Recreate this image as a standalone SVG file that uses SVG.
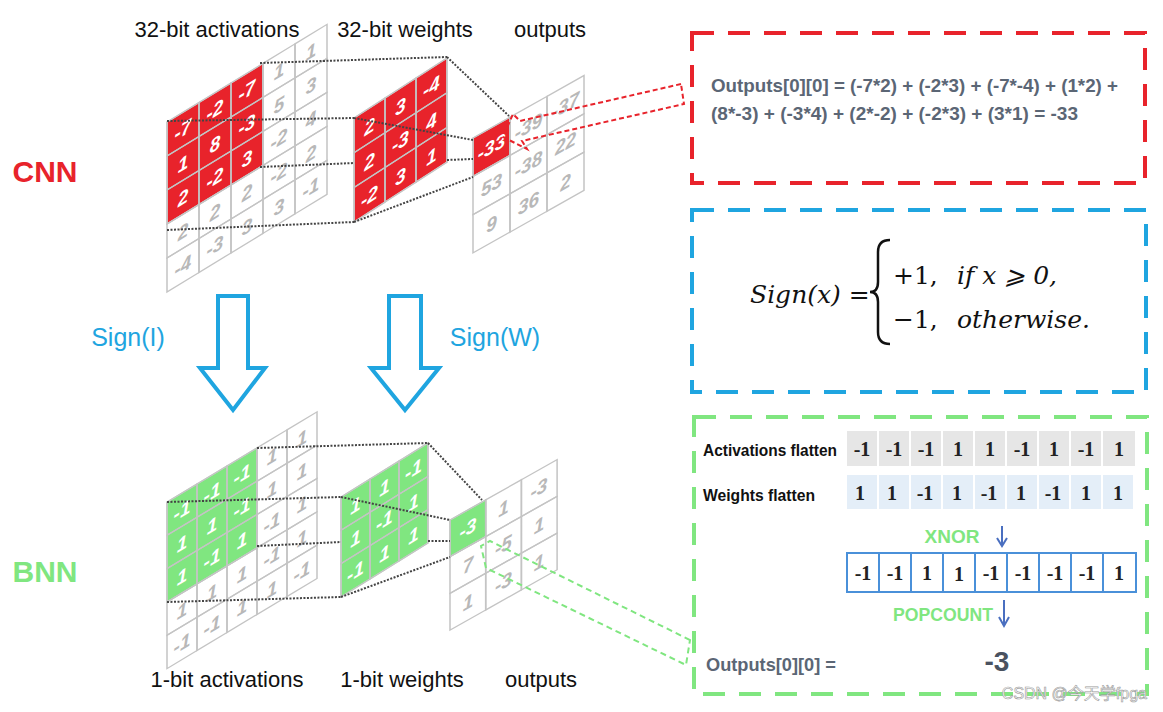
<svg xmlns="http://www.w3.org/2000/svg" width="1163" height="712" viewBox="0 0 1163 712">
<style>
.lbl{font-family:"Liberation Sans",Arial,sans-serif;font-size:22px;fill:#111}
.g rect{fill:none;stroke:#c4c4c4;stroke-width:1.5}
.g text{font-family:"Liberation Sans",Arial,sans-serif;font-weight:bold;font-style:italic;font-size:19px;fill:#b8b8b8;text-anchor:middle}
.g .r{fill:#e8232b;stroke:#d9d9d9}
.g .gr{fill:#80e680;stroke:#c9d9c9}
.g .w{fill:#fff}
.dot{stroke:#444;stroke-width:2;stroke-dasharray:2 1.5;fill:none}
.side{font-family:"Liberation Sans",Arial,sans-serif;font-weight:bold;font-size:19px;fill:#5b6675}
.cell text,.xn text{font-family:"Liberation Serif",serif;font-weight:bold;font-size:20px;fill:#222;text-anchor:middle}
</style>
<g id="labels">
<text class="lbl" x="217" y="37" text-anchor="middle">32-bit activations</text>
<text class="lbl" x="405" y="37" text-anchor="middle">32-bit weights</text>
<text class="lbl" x="550" y="37" text-anchor="middle">outputs</text>
<text class="lbl" x="227" y="687" text-anchor="middle">1-bit activations</text>
<text class="lbl" x="402" y="687" text-anchor="middle">1-bit weights</text>
<text class="lbl" x="541" y="687" text-anchor="middle">outputs</text>
<text x="45" y="182" text-anchor="middle" style="font-family:'Liberation Sans',sans-serif;font-weight:bold;font-size:30px;fill:#e8232b">CNN</text>
<text x="45" y="582" text-anchor="middle" style="font-family:'Liberation Sans',sans-serif;font-weight:bold;font-size:30px;fill:#80e680">BNN</text>
<text x="128" y="346" text-anchor="middle" style="font-family:'Liberation Sans',sans-serif;font-size:25px;fill:#1fa5e0">Sign(I)</text>
<text x="495" y="346" text-anchor="middle" style="font-family:'Liberation Sans',sans-serif;font-size:25px;fill:#1fa5e0">Sign(W)</text>
</g>
<g id="arrows" fill="#fff" stroke="#1fa5e0" stroke-width="4">
<path d="M218,296 H248 V368 H265 L233,410 L200,368 H218 Z"/>
<path d="M389,296 H421 V368 H439 L405,410 L371,368 H389 Z"/>
</g>
<g id="cnn-act" class="g" transform="translate(167,122) skewY(-31.4)">
<rect class="r" x="0" y="0" width="96" height="102"/>
<rect x="0" y="0" width="32" height="34"/><rect x="32" y="0" width="32" height="34"/><rect x="64" y="0" width="32" height="34"/><rect x="96" y="0" width="32" height="34"/><rect x="128" y="0" width="32" height="34"/>
<rect x="0" y="34" width="32" height="34"/><rect x="32" y="34" width="32" height="34"/><rect x="64" y="34" width="32" height="34"/><rect x="96" y="34" width="32" height="34"/><rect x="128" y="34" width="32" height="34"/>
<rect x="0" y="68" width="32" height="34"/><rect x="32" y="68" width="32" height="34"/><rect x="64" y="68" width="32" height="34"/><rect x="96" y="68" width="32" height="34"/><rect x="128" y="68" width="32" height="34"/>
<rect x="0" y="102" width="32" height="34"/><rect x="32" y="102" width="32" height="34"/><rect x="64" y="102" width="32" height="34"/><rect x="96" y="102" width="32" height="34"/><rect x="128" y="102" width="32" height="34"/>
<rect x="0" y="136" width="32" height="34"/><rect x="32" y="136" width="32" height="34"/><rect x="64" y="136" width="32" height="34"/><rect x="96" y="136" width="32" height="34"/><rect x="128" y="136" width="32" height="34"/>
<text class="w" x="16" y="24">-7</text><text class="w" x="48" y="24">-2</text><text class="w" x="80" y="24">-7</text><text x="112" y="24">1</text><text x="144" y="24">1</text>
<text class="w" x="16" y="58">1</text><text class="w" x="48" y="58">8</text><text class="w" x="80" y="58">-3</text><text x="112" y="58">5</text><text x="144" y="58">3</text>
<text class="w" x="16" y="92">2</text><text class="w" x="48" y="92">-2</text><text class="w" x="80" y="92">3</text><text x="112" y="92">-2</text><text x="144" y="92">4</text>
<text x="16" y="126">2</text><text x="48" y="126">2</text><text x="80" y="126">2</text><text x="112" y="126">-2</text><text x="144" y="126">2</text>
<text x="16" y="160">-4</text><text x="48" y="160">-3</text><text x="80" y="160">3</text><text x="112" y="160">3</text><text x="144" y="160">-1</text>
</g>
<g id="cnn-w" class="g" transform="translate(354,118) skewY(-32.8)">
<rect class="r" x="0" y="0" width="93" height="104"/>
<rect x="0" y="0" width="31" height="34.7"/><rect x="31" y="0" width="31" height="34.7"/><rect x="62" y="0" width="31" height="34.7"/>
<rect x="0" y="34.7" width="31" height="34.7"/><rect x="31" y="34.7" width="31" height="34.7"/><rect x="62" y="34.7" width="31" height="34.7"/>
<rect x="0" y="69.4" width="31" height="34.7"/><rect x="31" y="69.4" width="31" height="34.7"/><rect x="62" y="69.4" width="31" height="34.7"/>
<text class="w" x="15.5" y="25">2</text><text class="w" x="46.5" y="25">3</text><text class="w" x="77.5" y="25">-4</text>
<text class="w" x="15.5" y="60">2</text><text class="w" x="46.5" y="60">-3</text><text class="w" x="77.5" y="60">4</text>
<text class="w" x="15.5" y="95">-2</text><text class="w" x="46.5" y="95">3</text><text class="w" x="77.5" y="95">1</text>
</g>
<g id="cnn-out" class="g" transform="translate(473,138) skewY(-29.4)">
<rect class="r" x="0" y="0" width="37" height="38.3"/>
<rect x="0" y="0" width="37" height="38.3"/><rect x="37" y="0" width="37" height="38.3"/><rect x="74" y="0" width="37" height="38.3"/>
<rect x="0" y="38.3" width="37" height="38.3"/><rect x="37" y="38.3" width="37" height="38.3"/><rect x="74" y="38.3" width="37" height="38.3"/>
<rect x="0" y="76.6" width="37" height="38.3"/><rect x="37" y="76.6" width="37" height="38.3"/><rect x="74" y="76.6" width="37" height="38.3"/>
<text class="w" x="18.5" y="26">-33</text><text x="55.5" y="26">-39</text><text x="92.5" y="26">-37</text>
<text x="18.5" y="64">53</text><text x="55.5" y="64">-38</text><text x="92.5" y="64">22</text>
<text x="18.5" y="103">9</text><text x="55.5" y="103">36</text><text x="92.5" y="103">2</text>
</g>
<g id="bnn-act" class="g" transform="translate(167,502) skewY(-31)">
<rect class="gr" x="0" y="0" width="90" height="100"/>
<rect x="0" y="0" width="30" height="33.3"/><rect x="30" y="0" width="30" height="33.3"/><rect x="60" y="0" width="30" height="33.3"/><rect x="90" y="0" width="30" height="33.3"/><rect x="120" y="0" width="30" height="33.3"/>
<rect x="0" y="33.3" width="30" height="33.3"/><rect x="30" y="33.3" width="30" height="33.3"/><rect x="60" y="33.3" width="30" height="33.3"/><rect x="90" y="33.3" width="30" height="33.3"/><rect x="120" y="33.3" width="30" height="33.3"/>
<rect x="0" y="66.6" width="30" height="33.3"/><rect x="30" y="66.6" width="30" height="33.3"/><rect x="60" y="66.6" width="30" height="33.3"/><rect x="90" y="66.6" width="30" height="33.3"/><rect x="120" y="66.6" width="30" height="33.3"/>
<rect x="0" y="100" width="30" height="33.3"/><rect x="30" y="100" width="30" height="33.3"/><rect x="60" y="100" width="30" height="33.3"/><rect x="90" y="100" width="30" height="33.3"/><rect x="120" y="100" width="30" height="33.3"/>
<rect x="0" y="133.3" width="30" height="33.3"/><rect x="30" y="133.3" width="30" height="33.3"/><rect x="60" y="133.3" width="30" height="33.3"/><rect x="90" y="133.3" width="30" height="33.3"/><rect x="120" y="133.3" width="30" height="33.3"/>
<text class="w" x="15" y="24">-1</text><text class="w" x="45" y="24">-1</text><text class="w" x="75" y="24">-1</text><text x="105" y="24">1</text><text x="135" y="24">1</text>
<text class="w" x="15" y="57">1</text><text class="w" x="45" y="57">1</text><text class="w" x="75" y="57">-1</text><text x="105" y="57">1</text><text x="135" y="57">1</text>
<text class="w" x="15" y="90">1</text><text class="w" x="45" y="90">-1</text><text class="w" x="75" y="90">1</text><text x="105" y="90">-1</text><text x="135" y="90">1</text>
<text x="15" y="124">1</text><text x="45" y="124">1</text><text x="75" y="124">1</text><text x="105" y="124">-1</text><text x="135" y="124">1</text>
<text x="15" y="157">-1</text><text x="45" y="157">-1</text><text x="75" y="157">1</text><text x="105" y="157">1</text><text x="135" y="157">-1</text>
</g>
<g id="bnn-w" class="g" transform="translate(341,497) skewY(-31.8)">
<rect class="gr" x="0" y="0" width="87" height="100"/>
<rect x="0" y="0" width="29" height="33.3"/><rect x="29" y="0" width="29" height="33.3"/><rect x="58" y="0" width="29" height="33.3"/>
<rect x="0" y="33.3" width="29" height="33.3"/><rect x="29" y="33.3" width="29" height="33.3"/><rect x="58" y="33.3" width="29" height="33.3"/>
<rect x="0" y="66.6" width="29" height="33.3"/><rect x="29" y="66.6" width="29" height="33.3"/><rect x="58" y="66.6" width="29" height="33.3"/>
<text class="w" x="14.5" y="24">1</text><text class="w" x="43.5" y="24">1</text><text class="w" x="72.5" y="24">-1</text>
<text class="w" x="14.5" y="57">1</text><text class="w" x="43.5" y="57">-1</text><text class="w" x="72.5" y="57">1</text>
<text class="w" x="14.5" y="90">-1</text><text class="w" x="43.5" y="90">1</text><text class="w" x="72.5" y="90">1</text>
</g>
<g id="bnn-out" class="g" transform="translate(450,520) skewY(-29.4)">
<rect class="gr" x="0" y="0" width="35.7" height="36.7"/>
<rect x="0" y="0" width="35.7" height="36.7"/><rect x="35.7" y="0" width="35.7" height="36.7"/><rect x="71.4" y="0" width="35.7" height="36.7"/>
<rect x="0" y="36.7" width="35.7" height="36.7"/><rect x="35.7" y="36.7" width="35.7" height="36.7"/><rect x="71.4" y="36.7" width="35.7" height="36.7"/>
<rect x="0" y="73.4" width="35.7" height="36.7"/><rect x="35.7" y="73.4" width="35.7" height="36.7"/><rect x="71.4" y="73.4" width="35.7" height="36.7"/>
<text class="w" x="18" y="25">-3</text><text x="53.5" y="25">1</text><text x="89" y="25">-3</text>
<text x="18" y="62">7</text><text x="53.5" y="62">-5</text><text x="89" y="62">1</text>
<text x="18" y="99">1</text><text x="53.5" y="99">-3</text><text x="89" y="99">1</text>
</g>
<g id="connectors">
<path class="dot" d="M260,63 L447,57 M167,121 L354,118 M260,167 L354,163 M167,230 L354,222"/>
<path class="dot" d="M447,57 L509,116 M354,118 L473,140 M447,160 L473,159 M354,222 L473,177"/>
<path class="dot" d="M257,448 L428,443 M167,502 L341,497 M257,546 L341,542 M167,602 L341,597"/>
<path class="dot" d="M428,443 L482,500 M341,497 L450,520 M428,541 L450,541 M341,597 L450,557"/>
<path d="M681,84 L520,121 L513,114 L503,137 L527,149 L522,141 L684,104 Z" fill="none" stroke="#e8232b" stroke-width="2" stroke-dasharray="5 3"/>
<path d="M690,640 L490,541 L481,546 L486,568 L686,665 Z" fill="none" stroke="#80e680" stroke-width="2" stroke-dasharray="6 4"/>
</g>
<g id="box-cnn">
<rect x="692" y="33" width="453" height="150" fill="#fff" stroke="#e8232b" stroke-width="4" stroke-dasharray="22 14"/>
<text class="side" x="711" y="92" textLength="407" lengthAdjust="spacingAndGlyphs">Outputs[0][0] = (-7*2) + (-2*3) + (-7*-4) + (1*2) +</text>
<text class="side" x="711" y="120" textLength="367" lengthAdjust="spacingAndGlyphs">(8*-3) + (-3*4) + (2*-2) + (-2*3) + (3*1) = -33</text>
</g>
<g id="box-sign">
<rect x="692" y="210" width="454" height="182" fill="#fff" stroke="#1fa5e0" stroke-width="4" stroke-dasharray="22 14"/>
<g style="font-family:'DejaVu Serif','Liberation Serif',serif;font-size:25px;fill:#111">
<text x="750" y="303" font-style="italic">Sign(x) =</text>
<path d="M890,240 Q878,240 878,252 V282 Q878,292 870,292 Q878,292 878,302 V332 Q878,344 890,344" fill="none" stroke="#111" stroke-width="2.5"/>
<text x="893" y="284">+1,</text>
<text x="957" y="284" font-style="italic">if x ⩾ 0,</text>
<text x="893" y="328">−1,</text>
<text x="957" y="328" font-style="italic">otherwise.</text>
</g>
</g>
<g id="box-bnn">
<rect x="694" y="417" width="453" height="277" fill="#fff" stroke="#80e680" stroke-width="4" stroke-dasharray="22 14"/>
<text x="703" y="456" textLength="134" lengthAdjust="spacingAndGlyphs" style="font-family:'Liberation Sans',sans-serif;font-weight:bold;font-size:16px;fill:#111">Activations flatten</text>
<text x="703" y="501" textLength="112" lengthAdjust="spacingAndGlyphs" style="font-family:'Liberation Sans',sans-serif;font-weight:bold;font-size:16px;fill:#111">Weights flatten</text>
<g class="cell" fill="#e6e6e6">
<rect x="847" y="431" width="30" height="35"/><rect x="879" y="431" width="30" height="35"/><rect x="911" y="431" width="30" height="35"/><rect x="943" y="431" width="30" height="35"/><rect x="975" y="431" width="30" height="35"/><rect x="1007" y="431" width="30" height="35"/><rect x="1039" y="431" width="30" height="35"/><rect x="1071" y="431" width="30" height="35"/><rect x="1103" y="431" width="32" height="35"/>
<text x="862" y="456">-1</text><text x="894" y="456">-1</text><text x="926" y="456">-1</text><text x="958" y="456">1</text><text x="990" y="456">1</text><text x="1022" y="456">-1</text><text x="1054" y="456">1</text><text x="1086" y="456">-1</text><text x="1119" y="456">1</text>
</g>
<g class="cell" fill="#e4eef8">
<rect x="847" y="475" width="30" height="34"/><rect x="879" y="475" width="30" height="34"/><rect x="911" y="475" width="30" height="34"/><rect x="943" y="475" width="30" height="34"/><rect x="975" y="475" width="30" height="34"/><rect x="1007" y="475" width="30" height="34"/><rect x="1039" y="475" width="30" height="34"/><rect x="1071" y="475" width="30" height="34"/><rect x="1103" y="475" width="30" height="34"/>
<text x="860" y="500">1</text><text x="892" y="500">1</text><text x="925" y="500">-1</text><text x="957" y="500">1</text><text x="989" y="500">-1</text><text x="1021" y="500">1</text><text x="1053" y="500">-1</text><text x="1086" y="500">1</text><text x="1118" y="500">1</text>
</g>
<text x="952" y="543" text-anchor="middle" style="font-family:'Liberation Sans',sans-serif;font-weight:bold;font-size:19px;fill:#80e680">XNOR</text>
<path d="M1002,526 V544 M997,538 L1002,546 L1007,538" stroke="#4a6fc0" stroke-width="2" fill="none"/>
<g class="xn">
<rect x="847" y="553" width="289" height="39" fill="#fff" stroke="#4a90d9" stroke-width="2"/>
<path d="M879,553 V592 M911,553 V592 M943,553 V592 M975,553 V592 M1007,553 V592 M1039,553 V592 M1071,553 V592 M1103,553 V592" stroke="#4a90d9" stroke-width="2"/>
<text x="863" y="580">-1</text><text x="895" y="580">-1</text><text x="927" y="580">1</text><text x="959" y="581">1</text><text x="991" y="580">-1</text><text x="1023" y="580">-1</text><text x="1055" y="580">-1</text><text x="1087" y="580">-1</text><text x="1119" y="580">1</text>
</g>
<text x="943" y="621" text-anchor="middle" textLength="100" lengthAdjust="spacingAndGlyphs" style="font-family:'Liberation Sans',sans-serif;font-weight:bold;font-size:19px;fill:#80e680">POPCOUNT</text>
<path d="M1004,600 V624 M999,617 L1004,626 L1009,617" stroke="#4a6fc0" stroke-width="2" fill="none"/>
<text x="706" y="671" textLength="130" lengthAdjust="spacingAndGlyphs" style="font-family:'Liberation Sans',sans-serif;font-weight:bold;font-size:18px;fill:#5b6675">Outputs[0][0] =</text>
<text x="997" y="671" text-anchor="middle" style="font-family:'Liberation Sans',sans-serif;font-weight:bold;font-size:28px;fill:#4a5260">-3</text>
<text x="1147" y="699" text-anchor="end" style="font-family:'Liberation Sans','Noto Sans CJK SC',sans-serif;font-size:16px;fill:#fff;stroke:#999;stroke-width:0.6">CSDN @今天学fpga</text>
</g>
</svg>
